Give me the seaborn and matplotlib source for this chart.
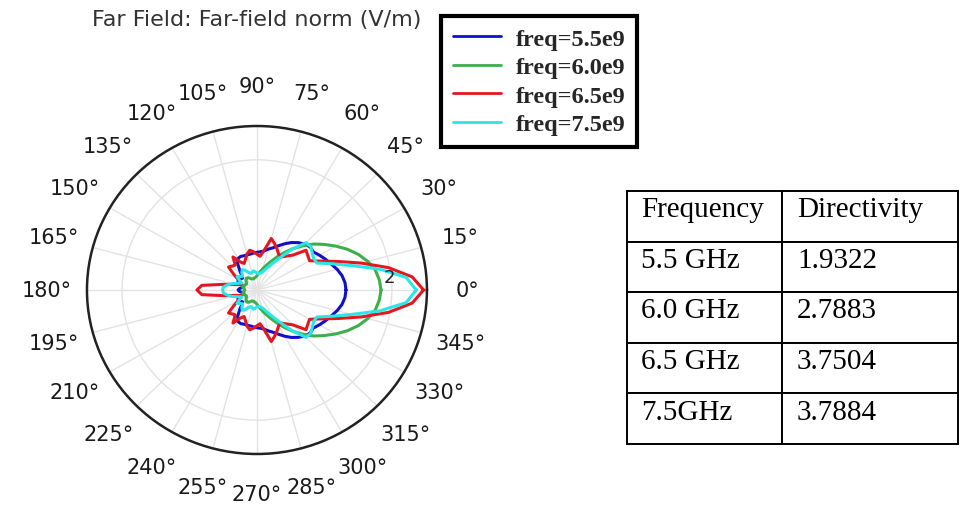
import numpy as np
import pandas as pd
import matplotlib
matplotlib.use("Agg")
import matplotlib.pyplot as plt
import seaborn as sns

# angles 0..180 deg (pattern is symmetric about 0 deg)
angles_deg = list(range(0, 181, 5))

freq_labels = ["freq=5.5e9", "freq=6.0e9", "freq=6.5e9", "freq=7.5e9"]
freq_colors = ["#1010cc", "#3caf4a", "#e4161e", "#2ae6e6"]

# far-field norm (V/m)
r_55 = [1.32, 1.31, 1.28, 1.23, 1.17, 1.12, 1.07, 1.02, 1.03, 1.00, 0.95, 0.89, 0.82,
        0.75, 0.69, 0.65, 0.61, 0.59, 0.58, 0.57, 0.56, 0.56, 0.56, 0.57, 0.56, 0.50,
        0.40, 0.32, 0.28, 0.30, 0.32, 0.31, 0.25, 0.20, 0.22, 0.26, 0.28]
r_60 = [1.84, 1.82, 1.78, 1.70, 1.60, 1.48, 1.35, 1.22, 1.10, 0.96, 0.83, 0.70, 0.58,
        0.48, 0.40, 0.34, 0.29, 0.25, 0.22, 0.20, 0.19, 0.18, 0.18, 0.19, 0.21, 0.23,
        0.24, 0.23, 0.21, 0.19, 0.18, 0.19, 0.21, 0.22, 0.21, 0.19, 0.18]
r_65 = [2.47, 2.31, 1.98, 1.60, 1.28, 1.05, 0.90, 0.92, 0.95, 0.76, 0.68, 0.62, 0.64,
        0.70, 0.76, 0.82, 0.62, 0.52, 0.55, 0.59, 0.62, 0.57, 0.50, 0.45, 0.50, 0.62,
        0.50, 0.52, 0.55, 0.42, 0.32, 0.27, 0.25, 0.32, 0.50, 0.82, 0.89]
r_75 = [2.36, 2.22, 1.85, 1.45, 1.18, 0.98, 0.97, 1.00, 1.04, 1.03, 0.82, 0.62, 0.48,
        0.39, 0.32, 0.28, 0.26, 0.25, 0.26, 0.28, 0.30, 0.28, 0.27, 0.30, 0.35, 0.38,
        0.35, 0.30, 0.32, 0.36, 0.30, 0.25, 0.30, 0.38, 0.45, 0.50, 0.51]

directivity_rows = [["Frequency", "Directivity"],
                    ["5.5 GHz", "1.9322"],
                    ["6.0 GHz", "2.7883"],
                    ["6.5 GHz", "3.7504"],
                    ["7.5GHz", "3.7884"]]

# full circle: upper half + mirrored lower half
half = np.array(angles_deg, dtype=float)
theta_full = np.concatenate([half, 360 - half[-2::-1]])
rows = []
for lab, r in zip(freq_labels, [r_55, r_60, r_65, r_75]):
    r = np.array(r)
    r_full = np.concatenate([r, r[-2::-1]])
    for t, v in zip(theta_full, r_full):
        rows.append({"theta": np.deg2rad(t), "r": v, "freq": lab})
df = pd.DataFrame(rows)

sns.set_theme(style="white")
plt.rcParams["font.family"] = ["DejaVu Sans"]

fig = plt.figure(figsize=(9.62, 5.06), dpi=100)
ax = fig.add_axes([0.0904, 0.1008, 0.3534, 0.6482], projection="polar")
ax.set_aspect("auto")

sns.lineplot(data=df, x="theta", y="r", hue="freq", palette=dict(zip(freq_labels, freq_colors)),
             sort=False, estimator=None, linewidth=2.2, ax=ax)

handles, labels = ax.get_legend_handles_labels()
ax.get_legend().remove()

ax.set_ylim(0, 2.52)
ax.set_xlabel("")
ax.set_ylabel("")
ax.set_thetagrids(np.arange(0, 360, 15), [f"{a}\u00b0" for a in range(0, 360, 15)])
ax.set_rgrids([2], [""])
# radial tick label, placed on the r=2 ring
ax.text(np.deg2rad(6), 1.98, "2", ha="center", va="center", fontsize=13,
        color="#222222", zorder=5)
ax.grid(True, color="#e3e3e3", linewidth=1.0)
ax.tick_params(axis="x", pad=16, labelsize=15, colors="#1a1a1a")
ax.spines["polar"].set_color("#222222")
ax.spines["polar"].set_linewidth(1.8)

fig.text(257 / 962, 1 - 20 / 506, "Far Field: Far-field norm (V/m)", ha="center", va="center",
         fontsize=16, color="#333333")

leg = fig.legend(handles, labels, loc="upper left", bbox_to_anchor=(441 / 962, 1 - 17 / 506),
                 prop={"family": "Liberation Serif", "weight": "bold", "size": 17.5},
                 frameon=True, fancybox=False, edgecolor="black", framealpha=1,
                 borderaxespad=0, handlelength=2.0, handletextpad=0.6,
                 labelspacing=0.27, borderpad=0.48)
leg.get_frame().set_linewidth(3)
for line in leg.get_lines():
    line.set_linewidth(2)

# directivity table
tax = fig.add_axes([627 / 962, 1 - 445 / 506, 331 / 962, 253 / 506])
tax.axis("off")
tbl = tax.table(cellText=directivity_rows, cellLoc="left", colWidths=[155 / 331, 176 / 331],
                bbox=[0, 0, 1, 1])
tbl.auto_set_font_size(False)
tbl.set_fontsize(21)
for (row, col), cell in tbl.get_celld().items():
    cell.set_linewidth(1.4)
    cell.set_edgecolor("black")
    cell.PAD = 14 / 155 if col == 0 else 15 / 176
    txt = cell.get_text()
    txt.set_fontfamily("Liberation Serif")
    txt.set_va("baseline")
    txt.set_color("black")

fig.savefig("out.png", dpi=100)
